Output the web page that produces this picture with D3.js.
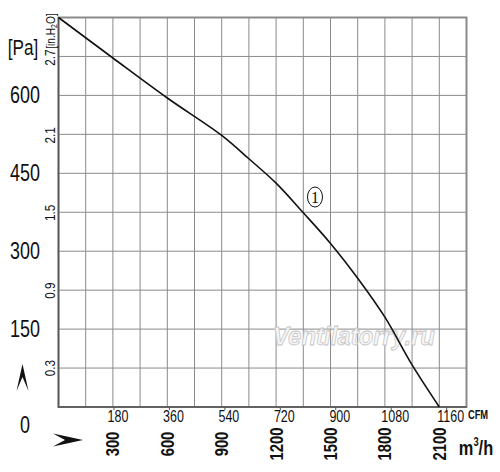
<!DOCTYPE html>
<html>
<head>
<meta charset="utf-8">
<style>
    body { margin: 0; background: white; }
    .grid line { stroke: #8a8a8a; stroke-width: 1; }
    text { font-family: "Liberation Sans", Arial, sans-serif; fill: #111; }
</style>
</head>
<body>
<script src="https://cdn.jsdelivr.net/npm/d3@7/dist/d3.min.js"></script>
<script>
// airflow in m3/h, static pressure in Pa (curve 1)
var flow     = [0, 300, 600, 900, 1050, 1200, 1350, 1500, 1650, 1800, 1950, 2100];
var pressure = [750, 672, 595, 523, 478, 431, 374, 315, 248, 173, 81, 0];

var paTicks   = [0, 150, 300, 450, 600];
var inTicks   = [0.3, 0.9, 1.5, 2.1, 2.7];
var m3hTicks  = [300, 600, 900, 1200, 1500, 1800, 2100];
var cfmTicks  = [180, 360, 540, 720, 900, 1080, 1260];
var cfmLabels = ["180", "360", "540", "720", "900", "1080", "1160"];

var width = 500, height = 472;
var flowMax = 2250, paMax = 750;
var CFM = 1.699;      // m3/h per CFM
var IN_H2O = 249.09;  // Pa per inch H2O
var squeeze = 0.78;   // fake a narrow face

var svg = d3.select("body").append("svg")
    .attr("width", width)
    .attr("height", height);

var x = d3.scaleLinear().domain([0, flowMax]).range([58.5, 466.5]);
var y = d3.scaleLinear().domain([0, paMax]).range([407, 17.5]);
var xCfm = d3.scaleLinear().domain([0, flowMax / CFM]).range(x.range());
var yIn = d3.scaleLinear().domain([0, paMax / IN_H2O]).range(y.range());

function place(px, py, rot) {
    return "translate(" + px + "," + py + ")" + (rot ? " rotate(" + rot + ")" : "") + " scale(" + squeeze + ",1)";
}

// grid
var grid = svg.append("g").attr("class", "grid");
grid.selectAll(".v").data(d3.range(150, flowMax, 150)).enter()
    .append("line")
    .attr("x1", function(d) { return x(d); })
    .attr("x2", function(d) { return x(d); })
    .attr("y1", y(0)).attr("y2", y(paMax));
grid.selectAll(".h").data(d3.range(75, paMax, 75)).enter()
    .append("line")
    .attr("x1", x(0)).attr("x2", x(flowMax))
    .attr("y1", function(d) { return y(d); })
    .attr("y2", function(d) { return y(d); });

// frame
svg.append("rect")
    .attr("x", x(0)).attr("y", y(paMax))
    .attr("width", x(flowMax) - x(0))
    .attr("height", y(0) - y(paMax))
    .attr("fill", "none")
    .attr("stroke", "#8a8a8a")
    .attr("stroke-width", 2);
svg.append("path")
    .attr("d", "M" + x(0) + "," + y(paMax) + "V" + y(0) + "H" + x(flowMax))
    .attr("fill", "none")
    .attr("stroke", "#555")
    .attr("stroke-width", 1.5);

// watermark
svg.append("text")
    .attr("x", 273).attr("y", 345)
    .attr("textLength", 162)
    .attr("lengthAdjust", "spacingAndGlyphs")
    .attr("font-size", 26)
    .attr("font-weight", "bold")
    .attr("font-style", "italic")
    .style("fill", "#f6f6f6")
    .attr("stroke", "#c4c4c4")
    .attr("stroke-width", 0.8)
    .text("Ventilatorry.ru");

// curve
var pts = flow.map(function(f, i) { return [f, pressure[i]]; });
svg.append("path")
    .datum(pts)
    .attr("fill", "none")
    .attr("stroke", "#111")
    .attr("stroke-width", 1.6)
    .attr("d", d3.line()
        .x(function(d) { return x(d[0]); })
        .y(function(d) { return y(d[1]); })
        .curve(d3.curveCatmullRom.alpha(0.5)));

// curve marker
svg.append("ellipse")
    .attr("cx", 315).attr("cy", 197)
    .attr("rx", 7.5).attr("ry", 10)
    .attr("fill", "white").attr("stroke", "#111").attr("stroke-width", 1);
svg.append("text")
    .attr("x", 315).attr("y", 202.5)
    .attr("text-anchor", "middle")
    .style("font-family", "Liberation Serif, serif")
    .attr("font-size", 16)
    .text("1");

// Pa axis labels
svg.selectAll(".pa").data(paTicks).enter()
    .append("text")
    .attr("transform", function(d) { return place(25, d === 0 ? y(d) + 26 : y(d) + 8); })
    .attr("text-anchor", "middle")
    .attr("font-size", 23)
    .text(function(d) { return d; });
svg.append("text")
    .attr("transform", place(23, 55))
    .attr("text-anchor", "middle")
    .attr("font-size", 22)
    .text("[Pa]");

// in.H2O labels (rotated)
svg.selectAll(".inh").data(inTicks).enter()
    .append("text")
    .attr("transform", function(d) { return place(55, yIn(d), -90); })
    .attr("text-anchor", "middle")
    .attr("font-size", 15)
    .text(function(d) { return d; });
svg.append("text")
    .attr("transform", place(55, 31, -90))
    .attr("text-anchor", "middle")
    .attr("font-size", 13)
    .html("[in.H<tspan font-size='9' dy='2'>2</tspan><tspan dy='-2'>O]</tspan>");

// CFM ticks and labels
svg.selectAll(".cfmTick").data(cfmTicks).enter()
    .append("line")
    .attr("x1", function(d) { return xCfm(d); })
    .attr("x2", function(d) { return xCfm(d); })
    .attr("y1", y(0)).attr("y2", y(0) + 3)
    .attr("stroke", "#555");
svg.selectAll(".cfm").data(cfmTicks).enter()
    .append("text")
    .attr("transform", function(d) { return place(xCfm(d) + 4, 422); })
    .attr("text-anchor", "middle")
    .attr("font-size", 16)
    .text(function(d, i) { return cfmLabels[i]; });
svg.append("text")
    .attr("transform", place(478, 419))
    .attr("text-anchor", "middle")
    .attr("font-size", 12)
    .attr("font-weight", "bold")
    .text("CFM");

// m3/h labels (rotated)
svg.selectAll(".m3h").data(m3hTicks).enter()
    .append("text")
    .attr("transform", function(d) { return place(x(d) + 6.5, 444, -90); })
    .attr("text-anchor", "middle")
    .attr("font-size", 19)
    .attr("font-weight", "bold")
    .text(function(d) { return d; });
svg.append("text")
    .attr("transform", place(476, 455))
    .attr("text-anchor", "middle")
    .attr("font-size", 21)
    .attr("font-weight", "bold")
    .html("m<tspan font-size='12' dy='-9'>3</tspan><tspan dy='9'>/h</tspan>");

// direction arrows
svg.append("path")
    .attr("d", "M22.5,364 L28.5,391 L22.5,377 L16.5,391 Z")
    .attr("fill", "#111");
svg.append("path")
    .attr("d", "M53,433.5 L83,440 L53,446.5 L65,440 Z")
    .attr("fill", "#111");
</script>
</body>
</html>
